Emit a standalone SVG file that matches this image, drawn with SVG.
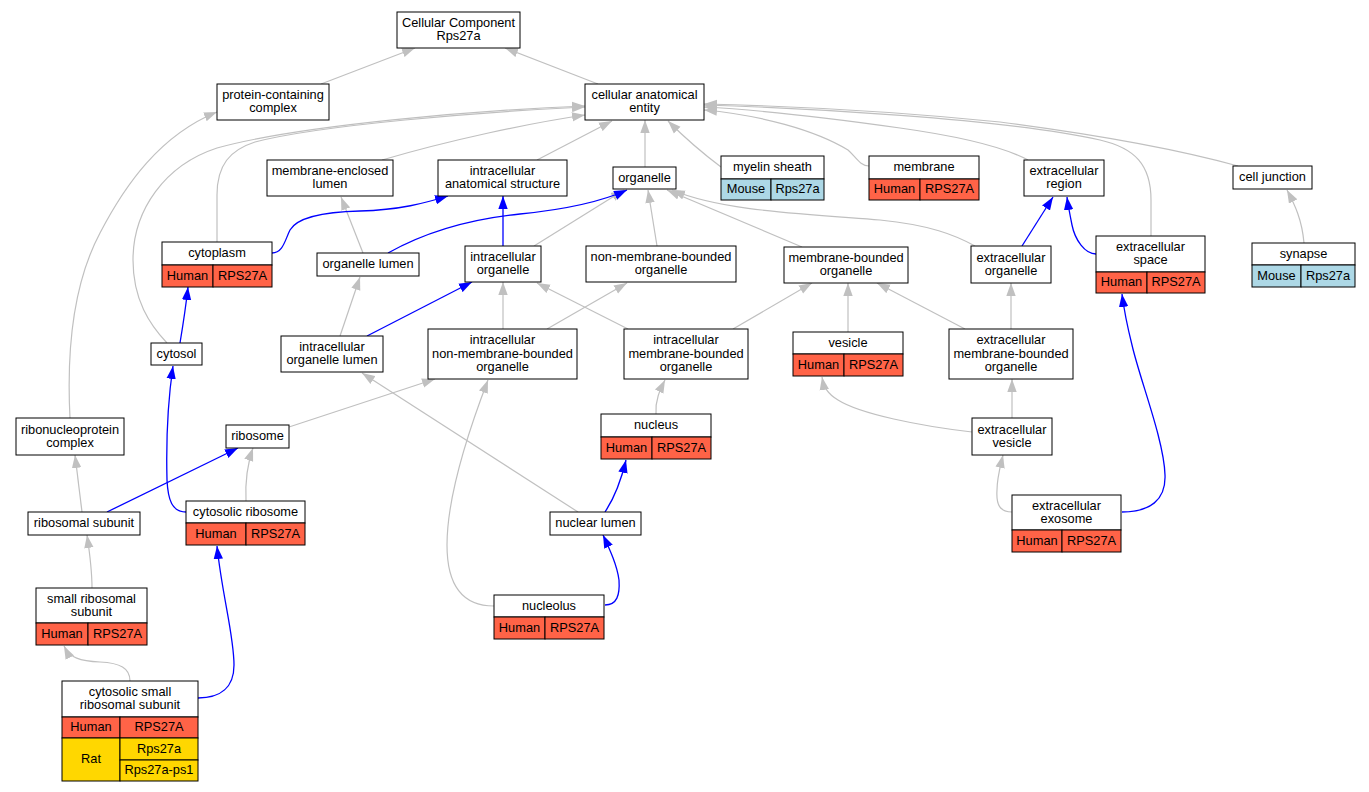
<svg xmlns="http://www.w3.org/2000/svg" width="1369" height="792" viewBox="0 0 1369 792">
<style>
rect{stroke:#000;stroke-width:1;fill:#fff}
.h{fill:#ff6347}
.m{fill:#add8e6}
.r{fill:#ffd700}
text{font-family:"Liberation Sans",Arial,sans-serif;font-size:12.8px;text-anchor:middle;fill:#000}
.g{fill:none;stroke:#c0c0c0;stroke-width:1.2;marker-end:url(#ag)}
.b{fill:none;stroke:#0000ff;stroke-width:1.3;marker-end:url(#ab)}
</style>
<defs>
<marker id="ag" markerUnits="userSpaceOnUse" viewBox="0 0 13 10" markerWidth="13" markerHeight="10" refX="13" refY="5" orient="auto"><path d="M0,0.3 L13,5 L0,9.7 z" fill="#c0c0c0"/></marker>
<marker id="ab" markerUnits="userSpaceOnUse" viewBox="0 0 13 10" markerWidth="13" markerHeight="10" refX="13" refY="5" orient="auto"><path d="M0,0.3 L13,5 L0,9.7 z" fill="#0000ff"/></marker>
</defs>
<rect x="0" y="0" width="1369" height="792" style="stroke:none;fill:#fff"/>
<g id="edges">
<path class="g" d="M321,84 L415,48"/>
<path class="g" d="M598,84 L505,48"/>
<path class="g" d="M70,418 C66,340 75,280 100,233 C125,185 160,135 217,112"/>
<path class="g" d="M217,242 L217,195 C217,165 230,150 255,142 C320,125 480,112 585,107"/>
<path class="g" d="M167,343 C150,325 133,300 133,260 C133,210 165,165 217,148 C300,125 480,110 585,106"/>
<path class="g" d="M382,160 C450,140 530,123 585,115"/>
<path class="g" d="M537,160 L612,121"/>
<path class="g" d="M645,167 L645,120"/>
<path class="g" d="M721,167 C705,155 685,138 668,121"/>
<path class="g" d="M869,166 C860,166 856,157 848,150 C815,130 760,115 704,110"/>
<path class="g" d="M1028,160 C1000,145 950,135 900,128 C830,118 760,110 704,107"/>
<path class="g" d="M1151,236 L1151,200 C1151,165 1135,148 1100,140 C1000,118 800,108 704,105"/>
<path class="g" d="M1238,166 C1180,150 1100,135 1000,122 C900,112 790,106 704,104"/>
<path class="g" d="M363,253 L341,197"/>
<path class="g" d="M340,336 L360,277"/>
<path class="g" d="M534,246 L624,190"/>
<path class="g" d="M657,246 L648,190"/>
<path class="g" d="M802,247 L667,190"/>
<path class="g" d="M975,246 C955,235 930,225 880,220 C790,213 720,210 672,190"/>
<path class="g" d="M503,329 L503,282"/>
<path class="g" d="M547,329 L627,283"/>
<path class="g" d="M628,329 L537,283"/>
<path class="g" d="M733,329 L812,283"/>
<path class="g" d="M848,332 L848,283"/>
<path class="g" d="M965,329 L877,283"/>
<path class="g" d="M1011,329 L1011,283"/>
<path class="g" d="M1304,243 C1302,220 1295,205 1287,190"/>
<path class="g" d="M578,512 L362,373"/>
<path class="g" d="M289,427 L435,379"/>
<path class="g" d="M494,606 C462,606 447,585 447,545 C447,500 465,440 488,380"/>
<path class="g" d="M656,414 C655,400 660,390 665,380"/>
<path class="g" d="M972,432 C920,426 860,414 838,400 C828,394 824,388 822,377"/>
<path class="g" d="M1012,418 L1012,379"/>
<path class="g" d="M1012,512 C1000,512 996,505 997,490 C997,478 1000,468 1003,455"/>
<path class="g" d="M246,501 C245,480 247,465 253,448"/>
<path class="g" d="M82,512 L75,455"/>
<path class="g" d="M92,588 C92,570 90,555 87,535"/>
<path class="g" d="M130,681 C130,668 120,663 100,662 C80,661 70,658 64,646"/>
<path class="b" d="M272,253 C283,253 285,240 290,230 C297,218 320,212 360,211 C400,210 425,203 448,196"/>
<path class="b" d="M388,253 C420,235 460,220 520,214 C570,209 605,200 627,190"/>
<path class="b" d="M503,246 L503,196"/>
<path class="b" d="M367,336 L472,282"/>
<path class="b" d="M180,343 C183,325 186,305 188,287"/>
<path class="b" d="M1022,246 L1053,197"/>
<path class="b" d="M1096,254 C1085,254 1075,240 1072,225 C1070,215 1068,205 1067,197"/>
<path class="b" d="M186,512 C172,512 168,500 167,480 C166,440 168,400 173,366"/>
<path class="b" d="M107,512 L238,448"/>
<path class="b" d="M605,512 C613,500 620,485 626,460"/>
<path class="b" d="M605,605 C617,605 620,595 619,580 C617,565 610,550 603,535"/>
<path class="b" d="M1122,512 C1150,512 1166,500 1165,475 C1164,440 1140,380 1132,345 C1127,325 1124,310 1122,294"/>
<path class="b" d="M198,698 C220,698 234,688 234,665 C234,635 222,595 217,546"/>
</g>
<g id="cellular_component"><rect x="397" y="12" width="123" height="36"/><text x="458.5" y="27">Cellular Component</text><text x="458.5" y="40.2">Rps27a</text></g>
<g id="protein_containing_complex"><rect x="217" y="84" width="112" height="36"/><text x="273" y="99">protein-containing</text><text x="273" y="112.2">complex</text></g>
<g id="cellular_anatomical_entity"><rect x="585" y="84" width="119" height="36"/><text x="644.5" y="99">cellular anatomical</text><text x="644.5" y="112.2">entity</text></g>
<g id="membrane_enclosed_lumen"><rect x="267" y="160" width="126" height="36"/><text x="330" y="175">membrane-enclosed</text><text x="330" y="188.2">lumen</text></g>
<g id="intracellular_anatomical_structure"><rect x="438" y="160" width="129" height="36"/><text x="502.5" y="175">intracellular</text><text x="502.5" y="188.2">anatomical structure</text></g>
<g id="organelle"><rect x="613" y="167" width="63" height="22"/><text x="644.5" y="181.6">organelle</text></g>
<g id="myelin_sheath"><rect x="721" y="156" width="103" height="23"/><rect class="m" x="721" y="179" width="50" height="21"/><rect class="m" x="771" y="179" width="53" height="21"/><text x="772.5" y="171.1">myelin sheath</text><text x="746" y="193.1">Mouse</text><text x="797.5" y="193.1">Rps27a</text></g>
<g id="membrane"><rect x="869" y="156" width="110" height="23"/><rect class="h" x="869" y="179" width="51" height="21"/><rect class="h" x="920" y="179" width="59" height="21"/><text x="924" y="171.1">membrane</text><text x="894.5" y="193.1">Human</text><text x="949.5" y="193.1">RPS27A</text></g>
<g id="extracellular_region"><rect x="1024" y="160" width="80" height="36"/><text x="1064" y="175">extracellular</text><text x="1064" y="188.2">region</text></g>
<g id="cell_junction"><rect x="1233" y="166" width="79" height="23"/><text x="1272.5" y="181.1">cell junction</text></g>
<g id="cytoplasm"><rect x="162" y="242" width="110" height="23"/><rect class="h" x="162" y="265" width="51" height="22"/><rect class="h" x="213" y="265" width="59" height="22"/><text x="217" y="257.1">cytoplasm</text><text x="187.5" y="279.6">Human</text><text x="242.5" y="279.6">RPS27A</text></g>
<g id="organelle_lumen"><rect x="317" y="253" width="102" height="23"/><text x="368" y="268.1">organelle lumen</text></g>
<g id="intracellular_organelle"><rect x="465" y="246" width="76" height="36"/><text x="503" y="261">intracellular</text><text x="503" y="274.2">organelle</text></g>
<g id="non_membrane_bounded_organelle"><rect x="586" y="246" width="150" height="36"/><text x="661" y="261">non-membrane-bounded</text><text x="661" y="274.2">organelle</text></g>
<g id="membrane_bounded_organelle"><rect x="784" y="247" width="124" height="36"/><text x="846" y="262">membrane-bounded</text><text x="846" y="275.2">organelle</text></g>
<g id="extracellular_organelle"><rect x="971" y="246" width="80" height="37"/><text x="1011" y="261.5">extracellular</text><text x="1011" y="274.7">organelle</text></g>
<g id="extracellular_space"><rect x="1096" y="236" width="109" height="36"/><rect class="h" x="1096" y="272" width="51" height="21"/><rect class="h" x="1147" y="272" width="58" height="21"/><text x="1150.5" y="251">extracellular</text><text x="1150.5" y="264.2">space</text><text x="1121.5" y="286.1">Human</text><text x="1176" y="286.1">RPS27A</text></g>
<g id="synapse"><rect x="1252" y="243" width="103" height="22"/><rect class="m" x="1252" y="265" width="49" height="22"/><rect class="m" x="1301" y="265" width="54" height="22"/><text x="1303.5" y="257.6">synapse</text><text x="1276.5" y="279.6">Mouse</text><text x="1328" y="279.6">Rps27a</text></g>
<g id="cytosol"><rect x="151" y="343" width="51" height="22"/><text x="176.5" y="357.6">cytosol</text></g>
<g id="intracellular_organelle_lumen"><rect x="281" y="336" width="102" height="36"/><text x="332" y="351">intracellular</text><text x="332" y="364.2">organelle lumen</text></g>
<g id="intracellular_non_membrane_bounded_organelle"><rect x="428" y="329" width="149" height="50"/><text x="502.5" y="344.4">intracellular</text><text x="502.5" y="357.6">non-membrane-bounded</text><text x="502.5" y="370.8">organelle</text></g>
<g id="intracellular_membrane_bounded_organelle"><rect x="624" y="329" width="124" height="50"/><text x="686" y="344.4">intracellular</text><text x="686" y="357.6">membrane-bounded</text><text x="686" y="370.8">organelle</text></g>
<g id="vesicle"><rect x="793" y="332" width="110" height="22"/><rect class="h" x="793" y="354" width="51" height="22"/><rect class="h" x="844" y="354" width="59" height="22"/><text x="848" y="346.6">vesicle</text><text x="818.5" y="368.6">Human</text><text x="873.5" y="368.6">RPS27A</text></g>
<g id="extracellular_membrane_bounded_organelle"><rect x="949" y="329" width="124" height="50"/><text x="1011" y="344.4">extracellular</text><text x="1011" y="357.6">membrane-bounded</text><text x="1011" y="370.8">organelle</text></g>
<g id="ribonucleoprotein_complex"><rect x="16" y="418" width="108" height="37"/><text x="70" y="433.5">ribonucleoprotein</text><text x="70" y="446.7">complex</text></g>
<g id="ribosome"><rect x="226" y="425" width="63" height="23"/><text x="257.5" y="440.1">ribosome</text></g>
<g id="nucleus"><rect x="601" y="414" width="110" height="23"/><rect class="h" x="601" y="437" width="51" height="22"/><rect class="h" x="652" y="437" width="59" height="22"/><text x="656" y="429.1">nucleus</text><text x="626.5" y="451.6">Human</text><text x="681.5" y="451.6">RPS27A</text></g>
<g id="extracellular_vesicle"><rect x="972" y="418" width="80" height="37"/><text x="1012" y="433.5">extracellular</text><text x="1012" y="446.7">vesicle</text></g>
<g id="ribosomal_subunit"><rect x="28" y="512" width="112" height="23"/><text x="84" y="527.1">ribosomal subunit</text></g>
<g id="cytosolic_ribosome"><rect x="186" y="501" width="119" height="22"/><rect class="h" x="186" y="523" width="60" height="22"/><rect class="h" x="246" y="523" width="59" height="22"/><text x="245.5" y="515.6">cytosolic ribosome</text><text x="216" y="537.6">Human</text><text x="275.5" y="537.6">RPS27A</text></g>
<g id="nuclear_lumen"><rect x="550" y="512" width="91" height="23"/><text x="595.5" y="527.1">nuclear lumen</text></g>
<g id="extracellular_exosome"><rect x="1012" y="495" width="109" height="35"/><rect class="h" x="1012" y="530" width="50" height="22"/><rect class="h" x="1062" y="530" width="59" height="22"/><text x="1066.5" y="509.5">extracellular</text><text x="1066.5" y="522.7">exosome</text><text x="1037" y="544.6">Human</text><text x="1091.5" y="544.6">RPS27A</text></g>
<g id="small_ribosomal_subunit"><rect x="36" y="588" width="111" height="35"/><rect class="h" x="36" y="623" width="52" height="22"/><rect class="h" x="88" y="623" width="59" height="22"/><text x="91.5" y="602.5">small ribosomal</text><text x="91.5" y="615.7">subunit</text><text x="62" y="637.6">Human</text><text x="117.5" y="637.6">RPS27A</text></g>
<g id="nucleolus"><rect x="494" y="595" width="110" height="22"/><rect class="h" x="494" y="617" width="51" height="22"/><rect class="h" x="545" y="617" width="59" height="22"/><text x="549" y="609.6">nucleolus</text><text x="519.5" y="631.6">Human</text><text x="574.5" y="631.6">RPS27A</text></g>
<g id="cytosolic_small_ribosomal_subunit"><rect x="62" y="681" width="136" height="36"/><rect class="h" x="62" y="717" width="58" height="21"/><rect class="h" x="120" y="717" width="78" height="21"/><rect class="r" x="62" y="738" width="58" height="43"/><rect class="r" x="120" y="738" width="78" height="22"/><rect class="r" x="120" y="760" width="78" height="21"/><text x="130" y="696">cytosolic small</text><text x="130" y="709.2">ribosomal subunit</text><text x="91" y="731.1">Human</text><text x="159" y="731.1">RPS27A</text><text x="91" y="763.1">Rat</text><text x="159" y="752.6">Rps27a</text><text x="159" y="774.1">Rps27a-ps1</text></g>
</svg>
